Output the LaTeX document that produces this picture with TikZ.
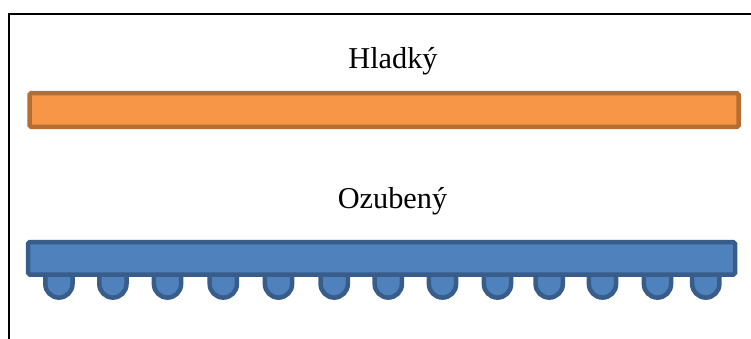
\documentclass[tikz,border=0pt]{standalone}
\usepackage{fontspec}
\setmainfont{Liberation Serif}
\definecolor{orfill}{HTML}{F79646}
\definecolor{ordraw}{HTML}{B66D31}
\definecolor{blfill}{HTML}{4F81BD}
\definecolor{bldraw}{HTML}{385D8A}
\begin{document}
\begin{tikzpicture}[x=1pt,y=1pt,
  lbl/.style={inner sep=0pt,anchor=base,font=\fontsize{30.3}{36}\selectfont},
  smoothbar/.style={fill=orfill,draw=ordraw,line width=4.5pt,rounded corners=1.5pt},
  toothbar/.style={fill=blfill,draw=bldraw,line width=4.5pt,rounded corners=1.5pt},
  tooth/.style={fill=blfill,draw=bldraw,line width=4.5pt}]
\useasboundingbox (0,0) rectangle (751,-338);
% frame (top and left only)
\draw[line width=1.8pt] (9,-345) -- (9,-14) -- (760,-14);
% labels
\node[lbl] (hl) at (393,-68) {Hladký};
\node[lbl] (oz) at (392.5,-208) {Ozubený};
% smooth bar
\draw[smoothbar] (29.5,-93.2) rectangle (738.5,-126.8);
% teeth
\foreach \cx in {58.9,112.9,167.5,223.3,278.5,334.2,388.3,442.5,497.5,549.2,602.5,657.5,705.8}{
  \draw[tooth] (\cx-13.6,-270) -- (\cx-13.6,-284) arc (180:360:13.6) -- (\cx+13.6,-270);
}
% toothed bar
\draw[toothbar] (28.2,-242.2) rectangle (735,-274.5);
\end{tikzpicture}
\end{document}
